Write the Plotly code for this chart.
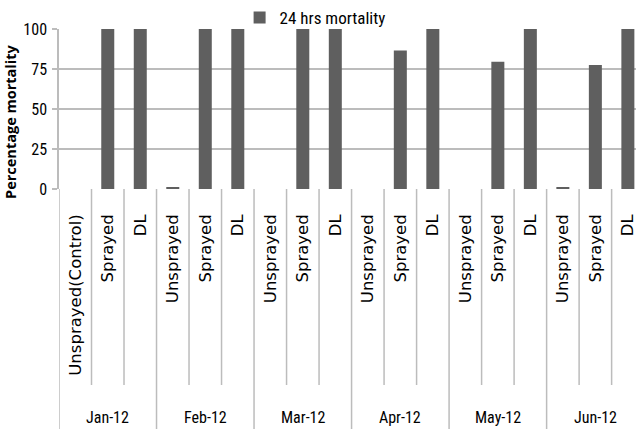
import plotly.graph_objects as go

# ---- data ----
months = ["Jan-12", "Feb-12", "Mar-12", "Apr-12", "May-12", "Jun-12"]
treatments_jan = ["Unsprayed(Control)", "Sprayed", "DL"]
treatments = ["Unsprayed", "Sprayed", "DL"]
mortality_24h = [0, 100, 100,
                 0.8, 100, 100,
                 0, 100, 100,
                 0, 86.5, 100,
                 0, 79.5, 100,
                 0.8, 77.5, 100]
y_ticks = [0, 25, 50, 75, 100]
series_name = "24 hrs mortality"
y_title = "Percentage mortality"

# ---- build categories ----
cat_ids, cat_text, cat_month = [], [], []
for mi, m in enumerate(months):
    tlist = treatments_jan if mi == 0 else treatments
    for t in tlist:
        cat_ids.append(f"{m}|{t}")
        cat_text.append(t)
        cat_month.append(m)

n = len(cat_ids)
per_group = len(treatments)

NARROW = "Liberation Sans Narrow, Arial Narrow, Roboto Condensed, Liberation Sans, sans-serif"
LINE = "#bcbcbc"

fig = go.Figure()
fig.add_trace(go.Bar(
    x=cat_ids, y=mortality_24h, name=series_name,
    marker=dict(color="#5f5f5f", line=dict(width=0)),
    width=0.4, showlegend=True,
))

# separators between categories (inner) and between months (full height)
shapes = []
for b in range(n):
    xpos = b - 0.5
    if b % per_group == 0:
        shapes.append(dict(type="line", xref="x", yref="paper", x0=xpos, x1=xpos,
                           y0=0, y1=-1.5, line=dict(color=LINE, width=1.5)))
    else:
        shapes.append(dict(type="line", xref="x", yref="paper", x0=xpos, x1=xpos,
                           y0=0, y1=-1.225, line=dict(color=LINE, width=1.5)))

annotations = []
for gi, m in enumerate(months):
    mid = cat_ids[gi * per_group + 1]
    annotations.append(dict(x=mid, xref="x", y=-1.43, yref="paper", text=m,
                            showarrow=False, xanchor="center", yanchor="middle",
                            font=dict(family=NARROW, size=16, color="#000")))
annotations.append(dict(x=-0.083, xref="paper", y=0.42, yref="paper", text=y_title,
                        textangle=-90, showarrow=False, xanchor="center", yanchor="middle",
                        font=dict(family="Open Sans, DejaVu Sans, sans-serif", size=14.5,
                                  color="#000", weight="bold")))

fig.update_layout(
    width=636, height=429,
    margin=dict(l=59, r=0, t=29, b=240, autoexpand=False),
    paper_bgcolor="white", plot_bgcolor="white",
    showlegend=True,
    legend=dict(orientation="h", x=0.313, xanchor="left", y=1.181, yanchor="top",
                font=dict(family=NARROW, size=17, color="#000"),
                bgcolor="rgba(0,0,0,0)"),
    shapes=shapes,
    annotations=annotations,
    bargap=0.6,
)
fig.update_xaxes(
    type="category", range=[-0.5, n - 0.5 - 0.25],
    tickmode="array", tickvals=cat_ids, ticktext=cat_text,
    tickangle=-90, ticks="", showgrid=False, zeroline=False, showline=False,
    tickfont=dict(family="DejaVu Sans, Verdana, sans-serif", size=16.5, color="#000"),
    ticklabelstandoff=21,
)
fig.update_yaxes(
    range=[0, 100], tickmode="array", tickvals=y_ticks,
    showgrid=True, gridcolor=LINE, gridwidth=1.5, zeroline=False,
    showline=True, linecolor=LINE, linewidth=1.5,
    ticks="outside", ticklen=5, tickcolor=LINE, tickwidth=1.5,
    tickfont=dict(family=NARROW, size=16, color="#000"),
    ticklabelstandoff=2,
)

fig.write_html("out.html", config={"displayModeBar": False},
               post_script="document.body.style.margin='0';document.body.style.overflow='hidden';")
